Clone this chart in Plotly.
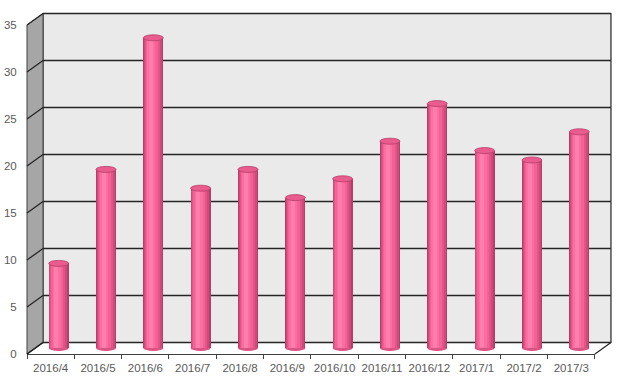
import plotly.graph_objects as go

# ---------------- data ----------------
categories = ["2016/4", "2016/5", "2016/6", "2016/7", "2016/8", "2016/9",
              "2016/10", "2016/11", "2016/12", "2017/1", "2017/2", "2017/3"]
values = [9, 19, 33, 17, 19, 16, 18, 22, 26, 21, 20, 23]
y_ticks = [0, 5, 10, 15, 20, 25, 30, 35]
y_max = 35

# ---------------- geometry (pixels) ----------------
W, H = 627, 388
cat_px = 47.33          # pixels per category
val_px = 9.4            # pixels per unit value
front_left, front_bottom = 27, 354
depth_dx, depth_dy = 16, 11.5   # back wall offset from front plane
bar_left = front_left + depth_dx / 2
bar_zero = front_bottom - 6

n = len(categories)
idx = list(range(n))

x2_c0 = bar_left + cat_px * 0.5
x2_range = [(0 - x2_c0) / cat_px, (W - x2_c0) / cat_px]
y2_range = [(bar_zero - H) / val_px, bar_zero / val_px]

ux = 1 / cat_px
uy = 1 / val_px


def front(i, v):
    return i - (depth_dx / 2) * ux, v - 6 * uy


def back(i, v):
    return i + (depth_dx / 2) * ux, v + (depth_dy - 6) * uy


fig = go.Figure()

fig.add_trace(go.Scatter(x=categories, y=values, mode="markers",
                         marker=dict(opacity=0), hoverinfo="skip",
                         showlegend=False, xaxis="x", yaxis="y"))

layers = [
    (20, 0.0, "#B83E69"),
    (18, -0.4, "#CD4A79"),
    (15, -0.9, "#E25687"),
    (12, -1.4, "#F26393"),
    (8, -1.9, "#FC6E9F"),
    (4, -2.3, "#FF7EAB"),
]
for wpx, opx, col in layers:
    w = wpx * ux
    fig.add_trace(go.Bar(
        x=idx, y=values, xaxis="x2", yaxis="y2",
        width=[w] * n, offset=[opx * ux - w / 2] * n,
        marker=dict(color=col, line=dict(width=0)),
        hoverinfo="skip", showlegend=False))

shapes = []
line_col = "#262626"

bx0, by0 = back(-0.5, 0)
bx1, by1 = back(n - 0.5, y_max)
shapes.append(dict(type="rect", xref="x2", yref="y2", x0=bx0, y0=by0, x1=bx1, y1=by1,
                   fillcolor="#EAEAEA", line=dict(color=line_col, width=1.2), layer="below"))

f0 = front(-0.5, 0)
f1 = front(-0.5, y_max)
b1 = back(-0.5, y_max)
b0 = back(-0.5, 0)
path = f"M {f0[0]},{f0[1]} L {f1[0]},{f1[1]} L {b1[0]},{b1[1]} L {b0[0]},{b0[1]} Z"
shapes.append(dict(type="path", xref="x2", yref="y2", path=path,
                   fillcolor="#A6A6A6", line=dict(color="#404040", width=1), layer="below"))

for v in y_ticks:
    a = back(-0.5, v)
    b = back(n - 0.5, v)
    shapes.append(dict(type="line", xref="x2", yref="y2", x0=a[0], y0=a[1], x1=b[0], y1=b[1],
                       line=dict(color=line_col, width=1.3), layer="below"))
    c = front(-0.5, v)
    shapes.append(dict(type="line", xref="x2", yref="y2", x0=c[0], y0=c[1], x1=a[0], y1=a[1],
                       line=dict(color=line_col, width=1.3), layer="below"))

fr = front(n - 0.5, 0)
br = back(n - 0.5, 0)
shapes.append(dict(type="line", xref="x2", yref="y2", x0=fr[0], y0=fr[1], x1=br[0], y1=br[1],
                   line=dict(color=line_col, width=1.2), layer="below"))
shapes.append(dict(type="line", xref="x2", yref="y2", x0=f0[0], y0=f0[1], x1=b0[0], y1=b0[1],
                   line=dict(color=line_col, width=1.2), layer="below"))

rx = 10 * ux
ry = 3 * uy
for i, v in zip(idx, values):
    shapes.append(dict(type="circle", xref="x2", yref="y2",
                       x0=i - rx, x1=i + rx, y0=-ry, y1=ry,
                       fillcolor="#DC5282", line=dict(width=0), layer="below"))
    shapes.append(dict(type="circle", xref="x2", yref="y2",
                       x0=i - rx, x1=i + rx, y0=v - ry, y1=v + ry,
                       fillcolor="#EA5B8E", line=dict(color="#B43E68", width=0.8), layer="above"))

font = dict(family="Liberation Sans, Arial, sans-serif", size=11.5, color="#595959")

fig.update_layout(
    width=W, height=H,
    margin=dict(l=0, r=0, t=0, b=0, autoexpand=False),
    paper_bgcolor="white", plot_bgcolor="rgba(0,0,0,0)",
    barmode="overlay", bargap=0,
    showlegend=False,
    shapes=shapes,
    xaxis=dict(type="category", categoryorder="array", categoryarray=categories,
               domain=[front_left / W, (front_left + cat_px * n) / W],
               range=[-0.5, n - 0.5], anchor="y", automargin=False, tickangle=0,
               showline=True, linecolor="#404040", linewidth=1,
               ticks="outside", tickson="boundaries", ticklen=4, tickcolor="#404040",
               ticklabelstandoff=3,
               showgrid=False, zeroline=False, tickfont=font, fixedrange=True),
    yaxis=dict(domain=[(H - front_bottom) / H, (H - (front_bottom - val_px * y_max)) / H],
               range=[0, y_max], anchor="x", automargin=False,
               tickvals=y_ticks, showgrid=False, zeroline=False, showline=False,
               ticks="outside", ticklen=7, tickcolor="rgba(0,0,0,0)",
               tickfont=font, fixedrange=True),
    xaxis2=dict(domain=[0, 1], range=x2_range, anchor="y2", visible=False,
                automargin=False, fixedrange=True),
    yaxis2=dict(domain=[0, 1], range=y2_range, anchor="x2", visible=False,
                automargin=False, fixedrange=True),
)

fig.write_html("out.html",
               config={"displayModeBar": False, "staticPlot": True},
               post_script="document.body.style.margin='0px';document.body.style.overflow='hidden';")
